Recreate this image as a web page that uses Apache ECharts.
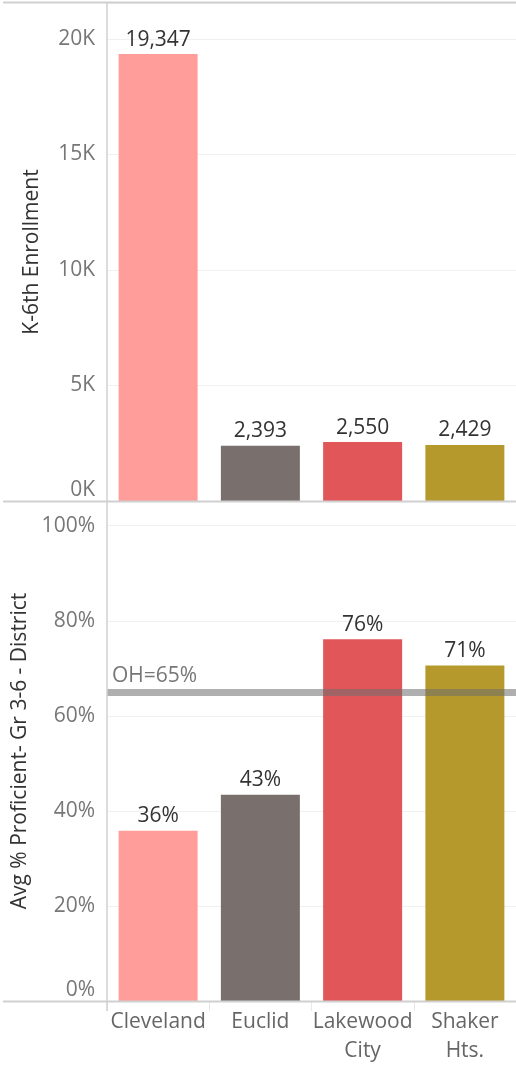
<!DOCTYPE html>
<html>
<head>
<meta charset="UTF-8">
<script src="https://cdn.jsdelivr.net/npm/echarts@6/dist/echarts.min.js"></script>
<title>Enrollment and proficiency</title>
<style>
  html, body { margin: 0; padding: 0; background: #fff; }
</style>
</head>
<body>
<div id="main" style="width: 516px; height: 1066px;"></div>
<script type="text/javascript">
// districts (x axis)
var districts = ['Cleveland', 'Euclid', 'Lakewood\nCity', 'Shaker\nHts.'];
var colors = ['#FF9D9A', '#79706E', '#E15759', '#B6992D'];
// K-6th enrollment
var enrollment = [19347, 2393, 2550, 2429];
// avg % proficient, grades 3-6
var proficient = [35.8, 43.4, 76.1, 70.6];
// state reference line
var ohioAvg = 65;

var font = 'Open Sans';
var fs = 21;

function withColors(vals) {
  return vals.map(function (v, i) {
    return { value: v, itemStyle: { color: colors[i] } };
  });
}

var myChart = echarts.init(document.getElementById('main'));

var option = {
  animation: false,
  textStyle: { fontFamily: font },
  grid: [
    { left: 107, right: -6, top: 3, height: 498 },
    { left: 107, right: -6, top: 501, height: 500 }
  ],
  xAxis: [
    {
      type: 'category', gridIndex: 0, data: districts,
      axisLine: { show: false }, axisTick: { show: false }, axisLabel: { show: false }
    },
    {
      type: 'category', gridIndex: 1, data: districts,
      axisLine: { show: false },
      axisTick: { show: true, length: 10, lineStyle: { color: '#e8e8e8' } },
      axisLabel: { interval: 0, color: '#666', fontSize: fs, lineHeight: 29, margin: 7, fontFamily: font }
    }
  ],
  yAxis: [
    {
      type: 'value', gridIndex: 0, min: 0, max: 21558, interval: 5000,
      name: 'K-6th Enrollment', nameLocation: 'middle', nameGap: 64,
      nameTextStyle: { color: '#333', fontSize: fs, fontFamily: font },
      axisLine: { show: false }, axisTick: { show: false },
      axisLabel: {
        color: '#777', fontSize: fs, margin: 12, showMaxLabel: false, fontFamily: font,
        verticalAlignMinLabel: 'bottom',
        formatter: function (v) { return (v / 1000) + 'K'; }
      },
      splitLine: { lineStyle: { color: '#f0f0f0' } }
    },
    {
      type: 'value', gridIndex: 1, min: 0, max: 105.2, interval: 20,
      name: 'Avg % Proficient- Gr 3-6 - District', nameLocation: 'middle', nameGap: 76,
      nameTextStyle: { color: '#333', fontSize: fs, fontFamily: font },
      axisLine: { show: false }, axisTick: { show: false },
      axisLabel: {
        color: '#777', fontSize: fs, margin: 12, showMaxLabel: false, fontFamily: font,
        verticalAlignMinLabel: 'bottom',
        formatter: '{value}%'
      },
      splitLine: { lineStyle: { color: '#f0f0f0' } }
    }
  ],
  series: [
    {
      type: 'bar', xAxisIndex: 0, yAxisIndex: 0, barWidth: 79,
      data: withColors(enrollment),
      label: {
        show: true, position: 'top', distance: 4, color: '#333', fontSize: fs, fontFamily: font,
        formatter: function (p) { return String(p.value).replace(/\B(?=(\d{3})+(?!\d))/g, ','); }
      }
    },
    {
      type: 'bar', xAxisIndex: 1, yAxisIndex: 1, barWidth: 79,
      data: withColors(proficient),
      label: {
        show: true, position: 'top', distance: 4, color: '#333', fontSize: fs, fontFamily: font,
        formatter: function (p) { return Math.round(p.value) + '%'; }
      },
      markLine: {
        silent: true, symbol: 'none', z: 10,
        lineStyle: { type: 'solid', width: 7, color: 'rgba(110,110,110,0.55)' },
        label: {
          show: true, position: 'insideStartTop', distance: [5, 6],
          color: '#777', fontSize: fs, fontFamily: font,
          formatter: 'OH=' + ohioAvg + '%'
        },
        data: [{ yAxis: ohioAvg }]
      }
    }
  ],
  graphic: [
    { type: 'line', z: 100, shape: { x1: 3, y1: 2.5, x2: 516, y2: 2.5 }, style: { stroke: '#d0d0d0', lineWidth: 2 } },
    { type: 'line', z: 100, shape: { x1: 3, y1: 501.5, x2: 516, y2: 501.5 }, style: { stroke: '#d0d0d0', lineWidth: 2 } },
    { type: 'line', z: 100, shape: { x1: 3, y1: 1001.5, x2: 516, y2: 1001.5 }, style: { stroke: '#d0d0d0', lineWidth: 2 } },
    { type: 'line', z: 100, shape: { x1: 107, y1: 3, x2: 107, y2: 1011 }, style: { stroke: '#d0d0d0', lineWidth: 1.5 } }
  ]
};
myChart.setOption(option);
</script>
</body>
</html>
